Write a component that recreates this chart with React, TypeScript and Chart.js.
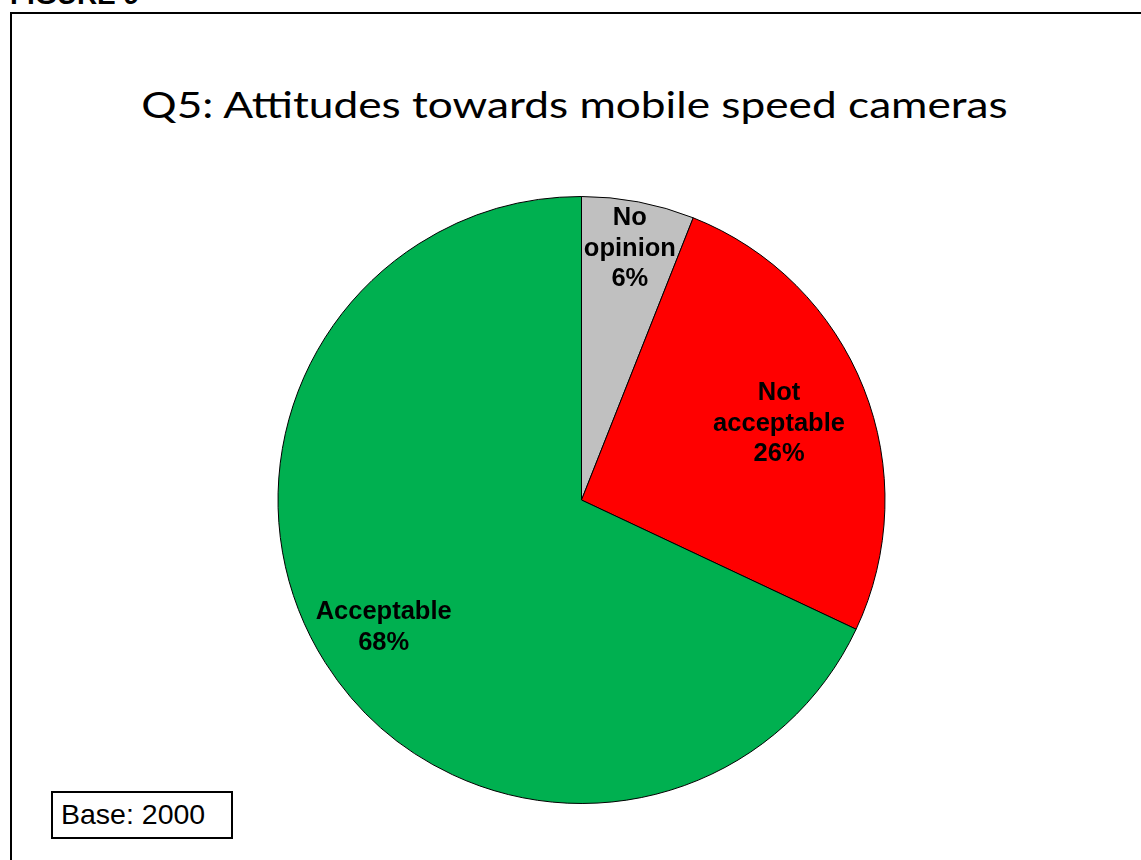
import React, { useEffect, useRef } from "react";
import { Chart, registerables } from "chart.js";

Chart.register(...registerables);

const categories = ["No opinion", "Not acceptable", "Acceptable"];
const values = [6, 26, 68];
const sliceColors = ["#C0C0C0", "#FF0000", "#00B050"];
const labelLines = [["No", "opinion"], ["Not", "acceptable"], ["Acceptable"]];
const labelRadiusFrac = [0.85, 0.70, 0.772];

const titleText = "Q5: Attitudes towards mobile speed cameras";
const figureText = "FIGURE 9";
const baseText = "Base: 2000";

const labelPlugin = {
  id: "sliceLabels",
  afterDatasetsDraw(chart: any) {
    const ctx = chart.ctx;
    const meta = chart.getDatasetMeta(0);
    ctx.save();
    ctx.font = 'bold 25.5px "Liberation Sans", Arial, sans-serif';
    ctx.fillStyle = "#000";
    ctx.textAlign = "center";
    ctx.textBaseline = "alphabetic";
    const lh = 30.5;
    meta.data.forEach((arc: any, i: number) => {
      const p = arc.getProps(["x", "y", "startAngle", "endAngle", "outerRadius"], true);
      const mid = (p.startAngle + p.endAngle) / 2;
      const r = p.outerRadius * labelRadiusFrac[i];
      const cx = p.x + Math.cos(mid) * r;
      const cy = p.y + Math.sin(mid) * r;
      const lines = [...labelLines[i], `${values[i]}%`];
      const n = lines.length;
      lines.forEach((t, j) => {
        const yc = cy + (j - (n - 1) / 2) * lh;
        ctx.fillText(t, cx, yc + 9);
      });
    });
    ctx.restore();
  },
};

export default function App() {
  const canvasRef = useRef<HTMLCanvasElement>(null);

  useEffect(() => {
    if (!canvasRef.current) return;
    const chart = new Chart(canvasRef.current, {
      type: "pie",
      data: {
        labels: categories,
        datasets: [
          {
            data: values,
            backgroundColor: sliceColors,
            borderColor: "#000000",
            borderWidth: 1,
          },
        ],
      },
      options: {
        responsive: false,
        animation: false,
        devicePixelRatio: 1,
        layout: { padding: { left: 277, right: 255, top: 196, bottom: 56 } },
        plugins: {
          legend: { display: false },
          tooltip: { enabled: false },
          title: { display: false },
        },
      },
      plugins: [labelPlugin],
    });
    return () => chart.destroy();
  }, []);

  return (
    <div
      style={{
        position: "absolute",
        left: 0,
        top: 0,
        width: 1141,
        height: 860,
        overflow: "hidden",
        background: "#fff",
      }}
    >
      <div
        style={{
          position: "absolute",
          left: 10,
          top: -19,
          font: 'bold 28px "Liberation Sans", Arial, sans-serif',
          lineHeight: "28px",
          whiteSpace: "nowrap",
          color: "#000",
        }}
      >
        {figureText}
      </div>
      <div
        style={{
          position: "absolute",
          left: 10,
          top: 12,
          width: 1200,
          height: 900,
          border: "2px solid #000",
          boxSizing: "border-box",
        }}
      />
      <div
        style={{
          position: "absolute",
          left: 0,
          top: 85,
          width: 1149,
          textAlign: "center",
          font: '37px Lato, "Open Sans", sans-serif',
          lineHeight: "37px",
          whiteSpace: "nowrap",
          color: "#000",
          transform: "scaleX(1.195)",
          transformOrigin: "574.5px 50%",
        }}
      >
        {titleText}
      </div>
      <canvas
        ref={canvasRef}
        width={1141}
        height={860}
        style={{ position: "absolute", left: 0, top: 0, width: 1141, height: 860 }}
      />
      <div
        style={{
          position: "absolute",
          left: 51,
          top: 791,
          width: 182,
          height: 48,
          border: "2px solid #000",
          boxSizing: "border-box",
          background: "#fff",
        }}
      >
        <span
          style={{
            position: "absolute",
            left: 8,
            top: 7,
            font: '28.5px "Liberation Sans", Arial, sans-serif',
            lineHeight: "28px",
            whiteSpace: "nowrap",
            color: "#000",
          }}
        >
          {baseText}
        </span>
      </div>
    </div>
  );
}
